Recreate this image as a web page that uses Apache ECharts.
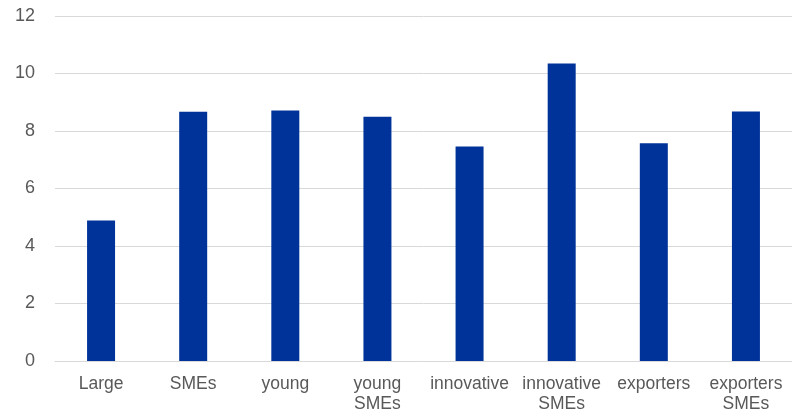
<!DOCTYPE html>
<html><head><meta charset="utf-8">
<script src="https://cdn.jsdelivr.net/npm/echarts@6/dist/echarts.min.js"></script>
<style>html,body{margin:0;padding:0;background:#fff}#c{width:792px;height:411px}</style>
</head><body><div id="c"></div>
<script>
const categories = ['Large', 'SMEs', 'young', 'young\nSMEs', 'innovative', 'innovative\nSMEs', 'exporters', 'exporters\nSMEs'];
const values = [4.89, 8.67, 8.71, 8.50, 7.46, 10.35, 7.57, 8.68];
const yTicks = { min: 0, max: 12, interval: 2 };

const chart = echarts.init(document.getElementById('c'), null, { renderer: 'canvas' });
chart.setOption({
  animation: false,
  grid: { left: 55, right: 0, top: 16, bottom: 50, containLabel: false, outerBoundsMode: 'none' },
  xAxis: {
    type: 'category', data: categories,
    axisLine: { show: true, lineStyle: { color: '#d9d9d9', width: 1 } },
    axisTick: { show: false },
    axisLabel: { color: '#595959', fontSize: 17.5, fontFamily: 'Liberation Sans, Arial, sans-serif', margin: 13, lineHeight: 20, interval: 0 }
  },
  yAxis: {
    type: 'value', min: yTicks.min, max: yTicks.max, interval: yTicks.interval,
    axisLine: { show: false }, axisTick: { show: false },
    axisLabel: { color: '#595959', fontSize: 18, fontFamily: 'Liberation Sans, Arial, sans-serif', margin: 20 },
    splitLine: { lineStyle: { color: '#d9d9d9', width: 1 } }
  },
  series: [{
    type: 'bar', data: values, barWidth: 28,
    itemStyle: { color: '#003399' }
  }]
});
</script></body></html>
